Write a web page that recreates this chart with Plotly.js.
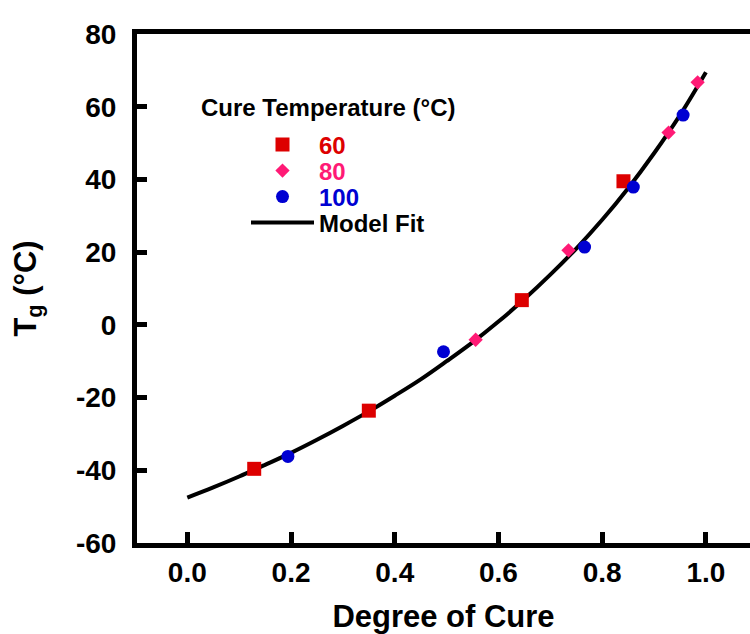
<!DOCTYPE html>
<html>
<head>
<meta charset="utf-8">
<script src="https://cdn.plot.ly/plotly-3.0.1.min.js"></script>
<style>html,body{margin:0;padding:0;background:#fff;}#chart{width:750px;height:634px;}</style>
</head>
<body>
<div id="chart"></div>
<script>
// Data
const cure60_x = [0.129, 0.350, 0.645, 0.841];
const cure60_y = [-39.6, -23.6, 6.8, 39.5];
const cure80_x = [0.556, 0.735, 0.928, 0.984];
const cure80_y = [-4.1, 20.5, 52.9, 66.7];
const cure100_x = [0.194, 0.494, 0.766, 0.860, 0.956];
const cure100_y = [-36.2, -7.4, 21.4, 37.9, 57.7];
const fit_x = [0, 0.05, 0.1, 0.15, 0.2, 0.25, 0.3, 0.35, 0.4, 0.45, 0.5, 0.55, 0.6, 0.65, 0.7, 0.75, 0.8, 0.85, 0.9, 0.95, 1.0];
const fit_y = [-47.5, -44.7, -41.7, -38.5, -35.2, -31.6, -27.8, -23.8, -19.5, -15.0, -10.0, -4.8, 0.9, 7.1, 13.8, 21.0, 28.9, 37.6, 47.2, 57.7, 69.5];
const xTicks = [0, 0.2, 0.4, 0.6, 0.8, 1.0];
const xTickLabels = ['0.0', '0.2', '0.4', '0.6', '0.8', '1.0'];
const yTicks = [-60, -40, -20, 0, 20, 40, 60, 80];
const yTickLabels = ['-60', '-40', '-20', '0', '20', '40', '60', '80'];
const seriesNames = ['60', '80', '100', 'Model Fit'];

const C60 = '#dd0000', C80 = '#ff1a75', C100 = '#0000d2';
const FONT = 'Arial, "Liberation Sans", Helvetica, sans-serif';

const traces = [
  {x: fit_x, y: fit_y, mode: 'lines', name: seriesNames[3], line: {color: '#000', width: 4, shape: 'spline'}, legend: 'legend4'},
  {x: cure60_x, y: cure60_y, mode: 'markers', name: seriesNames[0], marker: {symbol: 'square', size: 14, color: C60}, legend: 'legend'},
  {x: cure80_x, y: cure80_y, mode: 'markers', name: seriesNames[1], marker: {symbol: 'diamond', size: 11, color: C80}, legend: 'legend2'},
  {x: cure100_x, y: cure100_y, mode: 'markers', name: seriesNames[2], marker: {symbol: 'circle', size: 13, color: C100}, legend: 'legend3'}
];

const L = 137, T = 34, B = 91, W = 750, H = 634;
const pw = W - L, ph = H - T - B;
function px(x) { return (x - L) / pw; }
function py(y) { return (H - B - y) / ph; }

function leg(yc, color) {
  return {x: px(246), y: py(yc), xanchor: 'left', yanchor: 'middle', bgcolor: 'rgba(0,0,0,0)',
    borderwidth: 0, itemwidth: 63, font: {family: FONT, size: 24, color: color, weight: 'bold'}};
}

const layout = {
  width: W, height: H,
  margin: {l: L, r: 0, t: T, b: B, pad: 0},
  paper_bgcolor: '#fff', plot_bgcolor: '#fff',
  font: {family: FONT, color: '#000'},
  showlegend: true,
  legend: leg(145, C60),
  legend2: leg(171, C80),
  legend3: leg(197, C100),
  legend4: leg(223, '#000'),
  xaxis: {
    range: [-0.097, 1.085], tickmode: 'array', tickvals: xTicks, ticktext: xTickLabels,
    showgrid: false, zeroline: false, showline: true, linecolor: '#000', linewidth: 5, mirror: true,
    ticks: 'inside', ticklen: 11, tickwidth: 5, tickcolor: '#000',
    tickfont: {family: FONT, size: 28, color: '#000', weight: 'bold'},
    title: {text: 'Degree of Cure', font: {family: FONT, size: 31, color: '#000', weight: 'bold'}, standoff: 21}
  },
  yaxis: {
    range: [-60, 80], tickmode: 'array', tickvals: yTicks, ticktext: yTickLabels,
    showgrid: false, zeroline: false, showline: true, linecolor: '#000', linewidth: 5, mirror: false,
    ticks: 'inside', ticklen: 10, tickwidth: 5, tickcolor: '#000', ticklabelstandoff: 10,
    tickfont: {family: FONT, size: 28, color: '#000', weight: 'bold'},
    title: {text: 'T<sub>g</sub> (°C)', font: {family: FONT, size: 31, color: '#000', weight: 'bold'}, standoff: 32}
  },
  annotations: [{
    text: 'Cure Temperature (°C)', xref: 'paper', yref: 'paper', x: px(328), y: py(107),
    xanchor: 'center', yanchor: 'middle', showarrow: false,
    font: {family: FONT, size: 24, color: '#000', weight: 'bold'}
  }]
};

Plotly.newPlot('chart', traces, layout, {displayModeBar: false, staticPlot: true});
</script>
</body>
</html>
